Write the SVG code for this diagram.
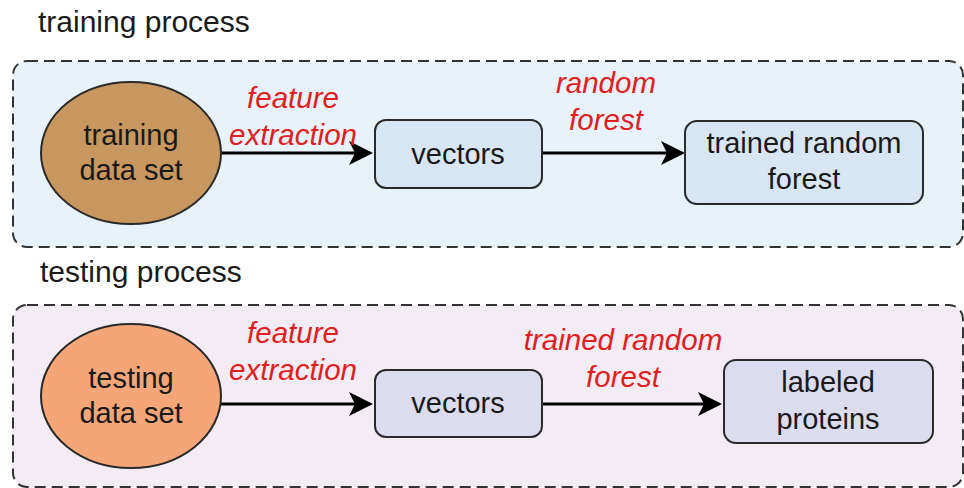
<svg xmlns="http://www.w3.org/2000/svg" width="964" height="488" viewBox="0 0 964 488">
<style>
.title{font-family:"Liberation Sans",Arial,sans-serif;font-size:30px;fill:#1a1a1a}
.node{font-family:"Liberation Sans",Arial,sans-serif;font-size:29px;fill:#1a1a1a;text-anchor:middle}
.lbl{font-family:"Liberation Sans",Arial,sans-serif;font-size:29.5px;font-style:italic;fill:#e02020;text-anchor:middle}
.cont{stroke:#333;stroke-width:2;stroke-dasharray:11,6}
.box{stroke:#2a2a2a;stroke-width:2}
.conn{stroke:#000;stroke-width:3;fill:none}
</style>
<defs>
<marker id="ah" markerWidth="8" markerHeight="8" refX="7" refY="4" orient="auto" markerUnits="strokeWidth">
<path d="M0,0 L8,4 L0,8 L2,4 Z" fill="#000"/>
</marker>
</defs>
<rect width="964" height="488" fill="#ffffff"/>
<g id="training-container">
<rect class="cont" x="13" y="61" width="950" height="186" rx="14" fill="#e8f2fb"/>
<text class="title" x="38" y="32">training process</text>
</g>
<g id="testing-container">
<rect class="cont" x="13" y="305" width="950" height="182" rx="14" fill="#f3ecf5"/>
<text class="title" x="40" y="282">testing process</text>
</g>
<g id="connectors">
<line class="conn" x1="220" y1="153" x2="370" y2="153" marker-end="url(#ah)"/>
<line class="conn" x1="542" y1="153" x2="682" y2="153" marker-end="url(#ah)"/>
<line class="conn" x1="220" y1="404" x2="370" y2="404" marker-end="url(#ah)"/>
<line class="conn" x1="542" y1="404" x2="719" y2="404" marker-end="url(#ah)"/>
<text class="lbl" x="293" y="108">feature</text>
<text class="lbl" x="293" y="145">extraction</text>
<text class="lbl" x="606" y="93">random</text>
<text class="lbl" x="606" y="130">forest</text>
<text class="lbl" x="293" y="343">feature</text>
<text class="lbl" x="293" y="380">extraction</text>
<text class="lbl" x="623" y="350">trained random</text>
<text class="lbl" x="623" y="387">forest</text>
</g>
<g id="training-data">
<ellipse class="box" cx="131" cy="153" rx="90" ry="71" fill="#c8975f"/>
<text class="node" x="131" y="145">training</text>
<text class="node" x="131" y="180">data set</text>
</g>
<g id="vectors-train">
<rect class="box" x="375" y="120" width="167" height="68" rx="11" fill="#d8e6f4"/>
<text class="node" x="458" y="164">vectors</text>
</g>
<g id="trained-rf">
<rect class="box" x="685" y="121" width="238" height="83" rx="12" fill="#d8e6f4"/>
<text class="node" x="804" y="153">trained random</text>
<text class="node" x="804" y="189">forest</text>
</g>
<g id="testing-data">
<ellipse class="box" cx="131" cy="396" rx="90" ry="72" fill="#f4a679"/>
<text class="node" x="131" y="388">testing</text>
<text class="node" x="131" y="423">data set</text>
</g>
<g id="vectors-test">
<rect class="box" x="375" y="370" width="167" height="67" rx="11" fill="#dcdcef"/>
<text class="node" x="458" y="413">vectors</text>
</g>
<g id="labeled-proteins">
<rect class="box" x="724" y="360" width="209" height="83" rx="12" fill="#dcdcef"/>
<text class="node" x="828" y="392">labeled</text>
<text class="node" x="828" y="429">proteins</text>
</g>
</svg>
